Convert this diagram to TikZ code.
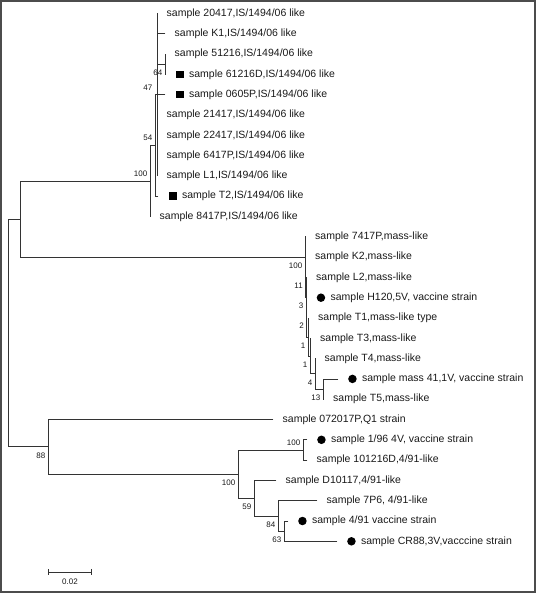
\documentclass[tikz,border=0pt]{standalone}
\usepackage{fontspec}
\setmainfont{Liberation Sans}
\usetikzlibrary{positioning}
\usetikzlibrary{arrows.meta}

\tikzset{
  branch/.style={draw=black!80, line width=0.8pt, line cap=rect},
  leaf/.style={anchor=west, inner sep=0pt, text=black!90, font=\fontsize{10.5}{12}\selectfont},
  boot/.style={inner sep=0pt, text=black!90, font=\fontsize{8}{9}\selectfont},
  bootb/.style={boot, anchor=north east, xshift=-2.5pt, yshift=-5.5pt},
  boota/.style={boot, anchor=south east, xshift=-2.5pt, yshift=4.5pt},
  sqmark/.style={fill=black, inner sep=0pt, minimum size=7.5pt},
  dotmark/.style={circle, fill=black, inner sep=0pt, minimum size=8.5pt},
}

\begin{document}
\begin{tikzpicture}[x=1pt, y=-20.3pt]
        \useasboundingbox (0,0.335) rectangle (536,29.547);
        \draw [gray!60!black, line width=1.4pt] (1,0.384) rectangle (535,29.498);
        \foreach \i/\x/\t in {1/157/{sample 20417,IS/1494/06 like}, 2/165/{sample K1,IS/1494/06 like},
            3/165/{sample 51216,IS/1494/06 like}, 6/157/{sample 21417,IS/1494/06 like},
            7/157/{sample 22417,IS/1494/06 like}, 8/157/{sample 6417P,IS/1494/06 like},
            9/157/{sample L1,IS/1494/06 like}, 11/150/{sample 8417P,IS/1494/06 like},
            12/305.5/{sample 7417P,mass-like}, 13/305.5/{sample K2,mass-like},
            14/306.5/{sample L2,mass-like}, 16/308.5/{sample T1,mass-like type},
            17/310.5/{sample T3,mass-like}, 18/315/{sample T4,mass-like},
            20/323.5/{sample T5,mass-like}, 21/273/{sample 072017P,Q1 strain},
            23/307/{sample 101216D,4/91-like}, 24/276/{sample D10117,4/91-like},
            25/317/{sample 7P6, 4/91-like}} {
            \coordinate (e\i) at (\x,\i);
            \node [leaf, right=9.5pt of e\i] (t\i) {\t};
        }
        \foreach \i/\x/\t in {4/165/{sample 61216D,IS/1494/06 like}, 5/165/{sample 0605P,IS/1494/06 like},
            10/158/{sample T2,IS/1494/06 like}} {
            \coordinate (e\i) at (\x,\i);
            \node [sqmark, right=11pt of e\i] (m\i) {};
            \node [leaf, right=5pt of m\i] (t\i) {\t};
        }
        \foreach \i/\x/\t in {15/306.5/{sample H120,5V, vaccine strain}, 19/338/{sample mass 41,1V, vaccine strain},
            22/307/{sample 1/96 4V, vaccine strain}, 26/288/{sample 4/91 vaccine strain},
            27/337/{sample CR88,3V,vacccine strain}} {
            \coordinate (e\i) at (\x,\i);
            \node [dotmark, right=10pt of e\i] (m\i) {};
            \node [leaf, right=5pt of m\i] (t\i) {\t};
        }
        \coordinate (root) at (8,16.73);
        \coordinate (top) at (20,11.123);
        \coordinate (is100) at (150,9.25);
        \coordinate (is54) at (155,7.5);
        \coordinate (is47) at (155,5);
        \coordinate (isP) at (157,5);
        \coordinate (is64) at (165,3.5);
        \coordinate (ms100) at (305,12.996);
        \coordinate (ms11) at (305.5,13.992);
        \coordinate (ms3) at (306,14.984);
        \coordinate (ms2) at (306.5,15.969);
        \coordinate (ms1a) at (308,16.938);
        \coordinate (ms1b) at (310,17.875);
        \coordinate (ms4) at (315,18.75);
        \coordinate (ms13) at (323,19.5);
        \coordinate (q88) at (48,22.344);
        \coordinate (q100) at (238,23.688);
        \coordinate (q100c) at (303,22.5);
        \coordinate (q59) at (254,24.875);
        \coordinate (q84) at (278,25.75);
        \coordinate (q63) at (284,26.5);
        \foreach \a/\b in {root/top, root/q88, top/is100, top/ms100,
            is100/is54, is100/e11, is54/is47, is54/e10, is47/isP, is47/e5,
            isP/e1, isP/e2, isP/is64, isP/e6, isP/e7, isP/e8, isP/e9, is64/e3, is64/e4,
            ms100/e12, ms100/ms11, ms11/e13, ms11/ms3, ms3/e14, ms3/ms2, ms2/e15, ms2/ms1a,
            ms1a/e16, ms1a/ms1b, ms1b/e17, ms1b/ms4, ms4/e18, ms4/ms13, ms13/e19, ms13/e20,
            q88/e21, q88/q100, q100/q100c, q100/q59, q100c/e22, q100c/e23,
            q59/e24, q59/q84, q84/e25, q84/q63, q63/e26, q63/e27} {
            \draw [branch] (\a) |- (\b);
        }
        \foreach \n/\v in {is100/100, is54/54, is47/47, q100c/100} {
            \node [boota] (b\n) at (\n) {\v};
        }
        \foreach \n/\v in {is64/64, ms100/100, ms11/11, ms3/3, ms2/2, ms1a/1, ms1b/1, ms4/4, ms13/13,
            q88/88, q100/100, q59/59, q84/84, q63/63} {
            \node [bootb] (b\n) at (\n) {\v};
        }
        \coordinate (sbl) at (48,28.51);
        \coordinate (sbr) at (92,28.51);
        \draw [branch, line cap=butt, {Bar[width=6pt]}-{Bar[width=6pt]}] (sbl) -- (sbr) node [boot, midway, below=7pt] (sbt) {0.02};
    \end{tikzpicture}
\end{document}
